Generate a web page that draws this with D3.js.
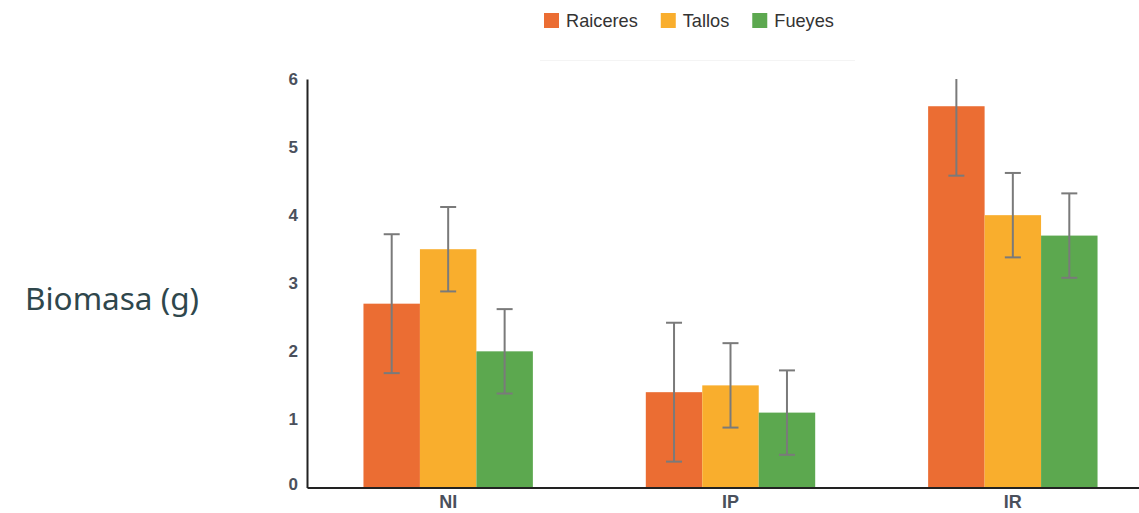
<!DOCTYPE html>
<html>
<head>
<meta charset="utf-8">
<script src="https://cdn.jsdelivr.net/npm/d3@7"></script>
<style>
  html, body { margin: 0; padding: 0; background: #fff; }
  svg { display: block; }
</style>
</head>
<body>
<svg id="chart" width="1139" height="513"></svg>
<script>
////////// Data //////////
const categories = ['NI', 'IP', 'IR'];
const seriesNames = ['Raiceres', 'Tallos', 'Fueyes'];
const raiceres = [2.7, 1.4, 5.6];
const tallos = [3.5, 1.5, 4.0];
const fueyes = [2.0, 1.1, 3.7];
const raiceresErr = [1.02, 1.02, 1.02];
const tallosErr = [0.62, 0.62, 0.62];
const fueyesErr = [0.62, 0.62, 0.62];
const yTicks = [0, 1, 2, 3, 4, 5, 6];

////////// Defs //////////
const colors = ['#eb6d33', '#f9ae2d', '#5ca84f'];
const errColor = '#7a7a7a';
const axisColor = '#222';
const plotLeft = 307, plotRight = 1154, plotTop = 79, plotBottom = 487.5;

const svg = d3.select('#chart');

const values = [raiceres, tallos, fueyes];
const errs = [raiceresErr, tallosErr, fueyesErr];
const rows = [];
categories.forEach((c, i) => {
	seriesNames.forEach((s, j) => {
		rows.push({ cat: c, series: s, idx: j, value: values[j][i], err: errs[j][i] });
	});
});

const x0 = d3.scaleBand().domain(categories).range([plotLeft, plotRight]).paddingInner(0.4).paddingOuter(0.2);
const x1 = d3.scaleBand().domain(seriesNames).range([0, x0.bandwidth()]);
const y = d3.scaleLinear().domain([0, 6]).range([plotBottom, plotTop]);

// bars
const bars = svg.append('g').attr('class', 'bars');
bars.selectAll('rect')
	.data(rows)
	.enter().append('rect')
		.attr('x', d => x0(d.cat) + x1(d.series))
		.attr('y', d => y(d.value))
		.attr('width', x1.bandwidth())
		.attr('height', d => y(0) - y(d.value))
		.attr('fill', d => colors[d.idx]);

// error bars
const capHalf = 8;
const errG = svg.append('g').attr('class', 'errors')
	.attr('stroke', errColor).attr('stroke-width', 2).attr('fill', 'none');
rows.forEach(d => {
	const cx = x0(d.cat) + x1(d.series) + x1.bandwidth() / 2;
	const hi = Math.min(d.value + d.err, 6);
	const lo = Math.max(d.value - d.err, 0);
	errG.append('line').attr('x1', cx).attr('x2', cx).attr('y1', y(hi)).attr('y2', y(lo));
	if (d.value + d.err <= 6) {
		errG.append('line').attr('x1', cx - capHalf).attr('x2', cx + capHalf).attr('y1', y(hi)).attr('y2', y(hi));
	}
	errG.append('line').attr('x1', cx - capHalf).attr('x2', cx + capHalf).attr('y1', y(lo)).attr('y2', y(lo));
});

// y axis
const yAxis = svg.append('g')
	.attr('transform', `translate(${plotLeft},0)`)
	.call(d3.axisLeft(y).tickValues(yTicks).tickSize(0).tickPadding(9).tickFormat(d3.format('d')));
yAxis.select('.domain').attr('stroke', axisColor).attr('stroke-width', 2);
yAxis.selectAll('text')
	.style('font', 'bold 17px "Liberation Sans", Arial, sans-serif')
	.attr('fill', '#4a505c')
	.attr('dy', d => d === 0 ? '0.12em' : '0.32em');

// x axis
const xAxis = svg.append('g')
	.attr('transform', `translate(0,${plotBottom})`)
	.call(d3.axisBottom(x0).tickSize(0).tickPadding(8));
xAxis.select('.domain').attr('stroke', axisColor).attr('stroke-width', 2);
xAxis.selectAll('text')
	.style('font', 'bold 18px "Liberation Sans", Arial, sans-serif')
	.attr('fill', '#4a505c');

// y label
svg.append('text')
	.attr('x', 25).attr('y', 310)
	.style('font', '31.5px "Noto Sans", sans-serif')
	.attr('fill', '#2f474c')
	.text('Biomasa (g)');

// legend
svg.append('line')
	.attr('x1', 540).attr('x2', 855).attr('y1', 60.5).attr('y2', 60.5)
	.attr('stroke', '#f4f4f4').attr('stroke-width', 1);
const legend = svg.append('g').attr('class', 'legend');
let lx = 544;
seriesNames.forEach((s, j) => {
	legend.append('rect').attr('x', lx).attr('y', 13).attr('width', 15).attr('height', 15).attr('fill', colors[j]);
	const t = legend.append('text')
		.attr('x', lx + 22).attr('y', 27)
		.style('font', '18.2px "Liberation Sans", Arial, sans-serif')
		.attr('fill', '#333')
		.text(s);
	lx += 22 + t.node().getComputedTextLength() + 23;
});
</script>
</body>
</html>
